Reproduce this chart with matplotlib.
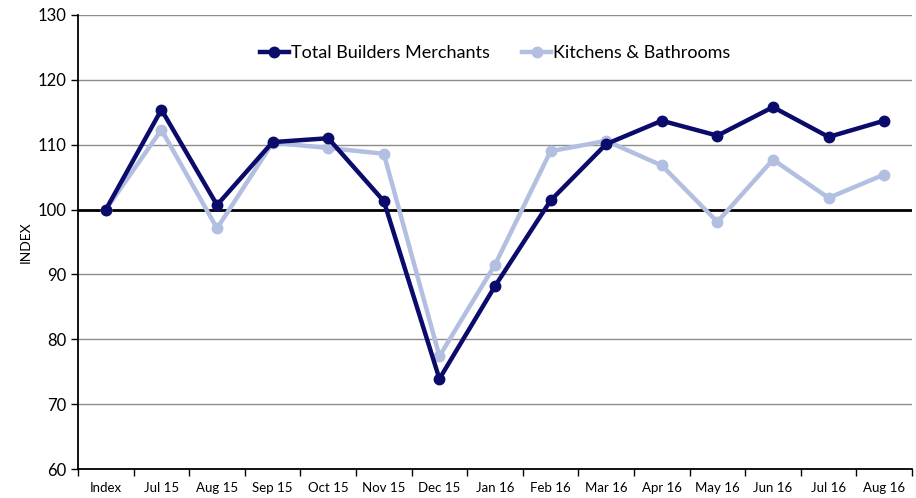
import numpy as np
import matplotlib
matplotlib.use('Agg')
import matplotlib.pyplot as plt

# category labels
months = ['Index', 'Jul 15', 'Aug 15', 'Sep 15', 'Oct 15', 'Nov 15', 'Dec 15', 'Jan 16',
          'Feb 16', 'Mar 16', 'Apr 16', 'May 16', 'Jun 16', 'Jul 16', 'Aug 16']
total_bm = [100, 115.4, 100.7, 110.4, 111.0, 101.3, 73.9, 88.2,
            101.4, 110.1, 113.7, 111.4, 115.8, 111.2, 113.7]
kitchens = [100, 112.3, 97.1, 110.3, 109.5, 108.6, 77.4, 91.5,
            109.0, 110.6, 106.8, 98.1, 107.7, 101.8, 105.4]
y_ticks = [60, 70, 80, 90, 100, 110, 120, 130]

plt.rcParams['font.family'] = ['Lato', 'DejaVu Sans']

fig = plt.figure(figsize=(9.16, 4.98), dpi=100)
ax = fig.add_axes([0.0852, 0.0582, 0.9104, 0.9117])

x = np.arange(len(months))

ax.set_ylim(60, 130)
ax.set_xlim(-0.5, len(months) - 0.5)
ax.set_yticks(y_ticks)
ax.yaxis.grid(True, color='#8c8c8c', linewidth=1)
ax.set_axisbelow(True)
ax.axhline(100, color='black', linewidth=2, zorder=2)

ax.plot(x, total_bm, color='#0b0b6b', linewidth=3.2, marker='o', markersize=7.5,
        label='Total Builders Merchants', zorder=4)
ax.plot(x, kitchens, color='#b3bfe0', linewidth=3.2, marker='o', markersize=7.5,
        label='Kitchens & Bathrooms', zorder=3)

# ticks between categories, labels centred
ax.set_xticks(np.arange(len(months) + 1) - 0.5)
ax.set_xticklabels([])
ax.set_xticks(x, minor=True)
ax.set_xticklabels(months, minor=True, fontsize=9.5)
ax.tick_params(axis='x', which='major', length=5, width=1, direction='out')
ax.tick_params(axis='x', which='minor', length=0, pad=9)
ax.tick_params(axis='y', length=5, width=1, direction='out', labelsize=12)

ax.set_ylabel('INDEX', fontsize=10)

for s in ['top', 'right']:
    ax.spines[s].set_visible(False)
for s in ['left', 'bottom']:
    ax.spines[s].set_color('black')
    ax.spines[s].set_linewidth(1.3)

ax.legend(loc='upper center', bbox_to_anchor=(0.5, 0.97), ncol=2, frameon=False,
          fontsize=13, handlelength=1.6, handletextpad=0.1, columnspacing=1.8)

fig.savefig('out.png', dpi=100)
